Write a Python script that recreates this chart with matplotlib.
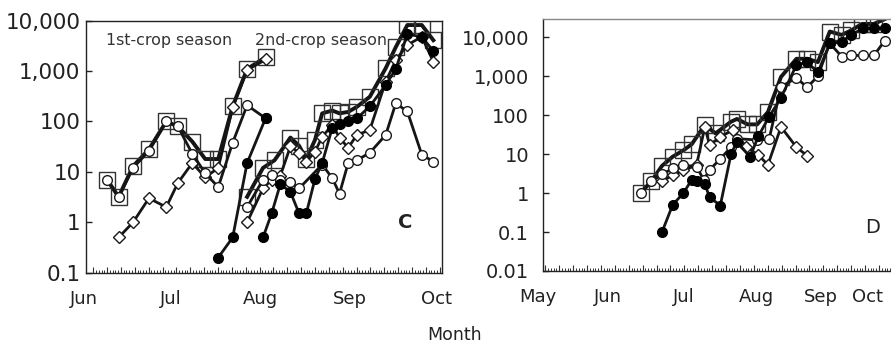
import numpy as np
import matplotlib.pyplot as plt
from matplotlib import transforms

# ---- panel C (x = days from Jun 1) ----
c_months = [0, 30, 61, 92, 122]
c_month_labels = ["Jun", "Jul", "Aug", "Sep", "Oct"]

c1_days = [8, 12, 17, 22.5, 28.5, 32.5, 37.5, 42, 46.5, 51.5, 56.5, 63]
c1_square = [7, 3.2, 13, 28, 100, 80, 40, 18, 18, 200, 1100, 1900]
c1_circle = [7, 3.2, 12, 26, 100, 80, 23, 9.4, 5, 38, 210, 115]
c1_dia_days = [12, 17, 22.5, 28.5, 32.5, 37.5, 42, 46.5, 51.5, 56.5, 63]
c1_diamond = [0.5, 1, 3, 2, 6, 15, 7.8, 12, 190, 1050, 1700]
c1_fill_days = [46.5, 51.5, 56.5, 63]
c1_filled = [0.2, 0.5, 15, 120]

c2_sq_days = [56.5, 62, 66, 71.5, 74.5, 77, 80, 82.5, 86, 88.5, 91.5, 94.5, 99, 104.5, 108, 112, 117, 121]
c2_square = [3.2, 12, 17, 48, 33, 18, 43, 145, 165, 145, 155, 195, 310, 1140, 3000, 8200, 8200, 4100]
c2_dia_days = [56.5, 62, 65, 68, 71.5, 74.5, 77, 80, 82.5, 86, 88.5, 91.5, 94.5, 99, 104.5, 108, 112, 117, 121]
c2_diamond = [1.0, 4.7, 7, 8.4, 32, 24, 16, 25, 50, 85, 48, 30, 54, 68, 620, 1650, 3300, 4800, 1540]
c2_fill_days = [62, 65, 68, 71.5, 74.5, 77, 80, 82.5, 86, 88.5, 91.5, 94.5, 99, 104.5, 108, 112, 117, 121]
c2_filled = [0.5, 1.5, 5.7, 4, 1.5, 1.5, 7.2, 15, 75, 88, 100, 115, 200, 530, 1100, 5400, 4800, 2500]
c2_ci_days = [56.5, 62, 65, 68, 71.5, 74.5, 82.5, 86, 88.5, 91.5, 94.5, 99, 104.5, 108, 112, 117, 121]
c2_circle = [2.0, 7, 8.5, 7, 6.2, 4.7, 14, 7.5, 3.7, 15, 17, 24, 54, 230, 158, 22, 16]

c_yticks = [0.1, 1, 10, 100, 1000, 10000]
c_ylabels = ["0.1", "1", "10", "100", "1,000", "10,000"]

# ---- panel D (x = days from May 1) ----
d_months = [0.4, 29.8, 61.8, 92.0, 119.3, 138.7]
d_month_labels = ["May", "Jun", "Jul", "Aug", "Sep", "Oct"]

d_sq_days = [43.5, 48, 52.5, 57, 61.5, 65, 70.5, 75, 81.5, 84, 88.5, 92.5, 97, 102.5, 109, 113.5, 118, 123, 128, 132, 136.5, 141.5, 146]
d_square = [1, 2, 5, 8.6, 12.5, 18, 56, 34, 68, 80, 58, 58, 120, 960, 2800, 2800, 2300, 14000, 11500, 15000, 22000, 22000, 29000]
d_fill_days = [52.5, 57, 61.5, 65, 67, 70.5, 72.5, 77, 81.5, 84, 89.5, 93, 97.5, 102.5, 109, 113.5, 118, 123, 128, 132, 137, 141.5, 146]
d_filled = [0.1, 0.5, 1.0, 2.2, 2.0, 1.7, 0.78, 0.48, 10, 21, 8.5, 29, 91, 280, 1950, 2300, 1250, 7000, 7700, 11500, 17000, 17000, 17500]
d_ci_days = [43.5, 48, 52.5, 57, 61.5, 67, 70, 72.5, 77, 81.5, 84, 92.5, 97.5, 102.5, 109, 113.5, 118, 123, 128, 132, 137, 141.5, 146]
d_circle = [1, 2, 3, 4.3, 5.2, 4.8, 2.2, 3.9, 7.6, 15, 25, 23, 24, 540, 900, 520, 1000, 7000, 3200, 3400, 3400, 3400, 8000]
d_dia_days = [52.5, 57, 61.5, 67, 70.5, 72.5, 77, 82.5, 88, 93, 97, 102.5, 109, 113.5]
d_diamond = [2, 2.9, 3.8, 5.2, 50, 17, 28, 42, 15, 9.5, 5.3, 50, 15, 9.1]

d_yticks = [0.01, 0.1, 1, 10, 100, 1000, 10000]
d_ylabels = ["0.01", "0.1", "1", "10", "100", "1,000", "10,000"]

LINE = "#151515"
sq = dict(marker="s", ms=11, mfc="none", mec="#333333", mew=1.0, color=LINE, lw=2.8, zorder=2)
dia = dict(marker="D", ms=6.5, mfc="white", mec="#1a1a1a", mew=1.0, color=LINE, lw=2.0, zorder=3)
ci = dict(marker="o", ms=7, mfc="white", mec="#1a1a1a", mew=1.0, color=LINE, lw=2.0, zorder=4)
fi = dict(marker="o", ms=7, mfc="black", mec="black", mew=1.0, color=LINE, lw=2.0, zorder=5)

fig = plt.figure(figsize=(8.91, 3.44), dpi=100)
axC = fig.add_axes([86 / 891, 1 - 272.7 / 344, 356 / 891, 252 / 344])
axD = fig.add_axes([543 / 891, 1 - 271 / 344, 352 / 891, 252 / 344])

# panel C
axC.plot(c1_days, c1_square, **sq)
axC.plot(c2_sq_days, c2_square, **sq)
axC.plot(c1_dia_days, c1_diamond, **dia)
axC.plot(c2_dia_days, c2_diamond, **dia)
axC.plot(c1_days, c1_circle, **ci)
axC.plot(c2_ci_days, c2_circle, **ci)
axC.plot(c1_fill_days, c1_filled, **fi)
axC.plot(c2_fill_days, c2_filled, **fi)

# panel D
axD.plot(d_sq_days, d_square, **sq)
axD.plot(d_dia_days, d_diamond, **dia)
axD.plot(d_ci_days, d_circle, **ci)
axD.plot(d_fill_days, d_filled, **fi)

for ax, yt, yl, ylim, xlim, mon, monl, start, step, ypad, ysize in [
    (axC, c_yticks, c_ylabels, (0.1, 10000), (0.7, 124), c_months, c_month_labels, 3.2, 4.8, 4, 15.5),
    (axD, d_yticks, d_ylabels, (0.01, 29400), (2.5, 150.4), d_months, d_month_labels, 3.5, 5.84, 10, 14),
]:
    ax.set_yscale("log")
    ax.set_ylim(*ylim)
    ax.set_xlim(*xlim)
    ax.set_yticks(yt, labels=yl)
    ax.yaxis.set_minor_locator(plt.NullLocator())
    ax.tick_params(axis="y", direction="in", length=4, width=1, pad=ypad,
                   labelsize=ysize, colors="#222222")
    ax.set_xticks(np.arange(start, xlim[1], step), labels=[])
    ax.set_xticks(np.arange(start, xlim[1], step / 5), minor=True)
    ax.tick_params(axis="x", which="major", direction="in", length=4, width=0.8, color="#333333")
    ax.tick_params(axis="x", which="minor", direction="in", length=2.2, width=0.7, color="#333333")
    # month labels (some fall just outside the axis range)
    trans = transforms.blended_transform_factory(ax.transData, ax.transAxes)
    for m, lab in zip(mon, monl):
        ax.text(m, -0.068, lab, transform=trans, ha="center", va="top",
                fontsize=13, color="#222222", clip_on=False)
    for s in ax.spines.values():
        s.set_color("#222222")
        s.set_linewidth(1.0)

axD.spines["top"].set_color("#888888")

axC.text(0.056, 0.923, "1st-crop season", transform=axC.transAxes, fontsize=11.4,
         color="#333333", va="center", ha="left")
axC.text(0.475, 0.923, "2nd-crop season", transform=axC.transAxes, fontsize=11.4,
         color="#333333", va="center", ha="left")
axC.text(0.896, 0.201, "C", transform=axC.transAxes, fontsize=14, fontweight="bold",
         color="#222222", va="center", ha="center")
axD.text(0.9375, 0.171, "D", transform=axD.transAxes, fontsize=14,
         color="#222222", va="center", ha="center")

fig.text(455 / 891, 1 - 335 / 344, "Month", ha="center", va="center", fontsize=12.5, color="#222222")

fig.savefig("out.png", dpi=100)
